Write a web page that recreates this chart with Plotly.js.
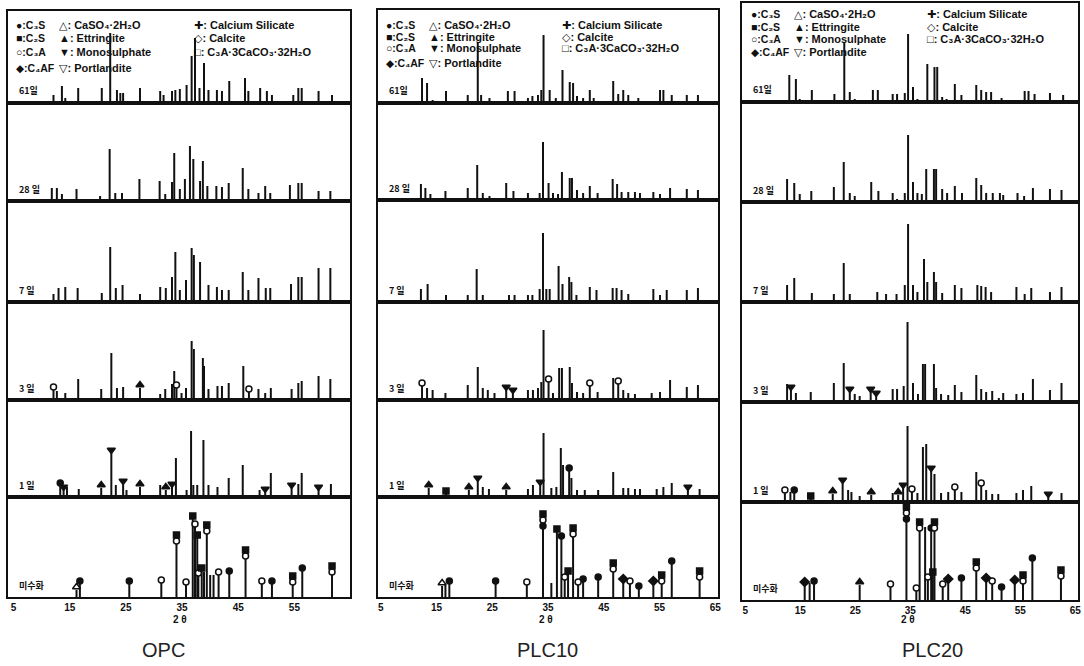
<!DOCTYPE html>
<html><head><meta charset="utf-8">
<script src="https://cdn.plot.ly/plotly-3.0.1.min.js"></script>
<style>html,body{margin:0;padding:0;background:#fff;}#chart{width:1084px;height:666px;}</style>
</head><body><div id="chart"></div>
<script>
// ---------- labels ----------
const panelNames = ['OPC', 'PLC10', 'PLC20'];
const rowNames = ['61일', '28 일', '7 일', '3 일', '1 일', '미수화'];
const tickVals = [5, 15, 25, 35, 45, 55, 65];
const legendCol1 = ['●:C₃S', '■:C₂S', '○:C₃A', '◆:C₄AF'];
const legendCol2 = ['△: CaSO₄·2H₂O', '▲: Ettringite', '▼: Monosulphate', '▽: Portlandite'];
const legendCol3 = ['✚: Calcium Silicate', '◇: Calcite', '□: C₃A·3CaCO₃·32H₂O'];

// ---------- OPC (2θ, relative intensity) ----------
const opc61x = [12.1,13.6,14.2,16.5,20.7,22.2,23.4,24.0,24.5,27.5,31.1,31.7,33.2,33.8,34.6,35.8,36.7,37.3,38.1,38.9,39.7,41.2,42.1,43.4,46.2,46.8,48.9,50.1,51.0,54.8,55.7,56.3,59.3,61.7];
const opc61y = [8,17,5,15,15,70,13,10,10,15,12,8,12,13,14,18,47,65,15,40,13,13,12,22,25,12,15,12,8,8,15,15,12,8];
const opc28x = [11.8,12.7,13.6,16.2,20.4,22.1,23.1,24.3,27.4,31.0,32.0,33.2,33.6,34.6,35.5,36.4,37.0,38.2,38.7,39.5,41.1,42.1,43.3,45.8,46.8,48.6,49.8,50.7,54.2,55.7,56.3,59.3,61.4];
const opc28y = [13,13,7,12,5,52,8,8,22,20,7,19,48,12,22,55,42,20,40,15,15,14,18,33,12,8,15,8,16,18,18,10,10];
const opc7x = [12.1,13.0,14.2,16.4,20.7,22.2,23.2,24.4,27.5,31.1,32.1,33.2,33.8,34.6,35.7,36.7,37.1,38.2,39.7,41.2,42.1,43.3,45.8,46.8,48.6,49.9,50.7,54.4,55.7,56.3,59.3,61.4];
const opc7y = [8,14,15,14,9,55,14,17,8,15,14,25,50,12,22,54,47,40,17,15,12,12,30,12,24,14,14,18,25,25,34,34];
const opc3x = [12.1,12.7,14.2,16.5,20.6,22.4,23.4,24.5,27.5,31.1,32.0,33.2,33.6,34.0,34.9,35.7,36.7,37.1,38.7,38.9,39.7,41.3,42.1,43.3,45.9,46.9,48.6,49.8,50.8,54.5,55.7,56.3,59.3,61.4];
const opc3y = [10,9,7,21,11,47,12,13,12,6,11,16,29,12,7,12,59,51,42,34,11,14,14,17,34,8,11,7,12,11,17,19,24,21];
const opc3mx = [12.1,27.5,34.0,46.9];
const opc3ms = ['o','u','o','o'];
const opc1x = [13.3,13.9,14.5,16.6,20.6,22.4,23.2,24.5,25.1,27.5,31.1,32.1,33.2,33.9,35.8,36.6,37.0,37.7,38.8,39.7,41.3,43.3,45.8,48.8,49.8,50.8,54.5,55.7,56.3,59.3,61.5];
const opc1y = [11,7,10,8,9,44,12,13,7,10,12,7,10,39,7,66,12,12,57,12,10,19,32,7,5,24,9,13,24,7,13];
const opc1mx = [13.3,13.9,20.6,22.4,24.5,27.5,32.1,33.2,49.8,54.5,59.3];
const opc1ms = ['c','n','u','n','n','u','u','n','n','n','n'];
const opc0x = [16.2,16.8,25.6,31.3,34.0,35.7,36.9,37.3,37.7,37.9,38.5,38.9,39.4,40.0,40.6,41.5,43.4,46.3,49.2,51.0,54.7,56.4,61.7];
const opc0y = [7,13,13,14,53,12,78,70,59,21,26,25,63,22,22,22,23,38,13,13,12,26,22];
const opc0mx = [16.2,16.8,25.6,31.3,34.0,35.7,36.9,37.3,37.7,37.9,38.5,39.4,41.5,43.4,46.3,49.2,51.0,54.7,56.4,61.7];
const opc0ms = ['a','c','c','o','os','o','s','o','s','o','s','os','o','c','os','o','c','os','c','os'];

// ---------- PLC10 ----------
const p10_61x = [12.4,13.3,14.3,16.7,20.6,22.4,23.0,24.5,27.8,29.0,31.4,32.2,33.2,33.8,34.2,35.3,36.4,37.6,38.9,39.5,40.2,41.3,42.5,43.2,46.7,47.6,48.5,49.4,51.2,55.1,55.7,57.2,59.9,61.9];
const p10_61y = [25,20,3,12,8,60,8,5,12,12,5,7,8,13,68,13,5,33,21,20,7,5,13,5,22,9,13,8,5,13,13,8,8,8];
const p10_28x = [12.2,13.0,13.9,16.6,20.6,22.3,23.3,24.5,27.5,28.8,31.4,32.2,33.5,34.1,35.1,35.9,36.8,37.5,38.9,39.3,40.2,41.3,42.5,43.9,46.6,47.4,48.2,49.4,50.6,51.5,53.9,55.1,56.9,59.9,61.9];
const p10_28y = [16,12,6,9,12,35,7,4,17,9,7,2,7,58,17,7,6,28,22,22,10,7,14,7,21,16,8,8,8,7,8,6,12,11,10];
const p10_7x = [12.2,13.4,16.7,20.6,22.2,23.3,28.0,29.0,31.4,32.2,33.5,34.1,34.7,35.3,36.9,37.6,38.8,39.2,40.1,42.5,43.7,46.6,47.3,48.2,49.4,53.9,55.1,56.3,59.9,61.9];
const p10_7y = [13,18,7,7,33,7,7,7,7,7,13,69,13,13,36,18,25,20,7,15,12,14,14,12,8,13,7,12,12,14];
const p10_3x = [12.4,13.3,14.3,16.6,20.6,22.4,23.3,24.2,25.4,27.5,28.7,31.4,32.3,33.2,33.8,34.2,35.1,35.9,37.0,37.5,38.9,39.3,40.2,41.3,42.5,43.9,46.7,47.6,48.5,49.4,50.6,53.6,55.1,56.9,59.9,61.9];
const p10_3y = [14,12,10,7,15,33,12,10,7,10,7,10,10,12,18,70,18,7,32,32,33,17,8,7,14,8,22,16,10,7,6,7,8,20,13,15];
const p10_3mx = [12.4,27.5,28.7,35.1,42.5,47.6];
const p10_3ms = ['o','n','n','o','o','o'];
const p10_1x = [13.6,16.7,20.8,22.4,23.3,24.4,27.5,31.4,32.3,33.6,34.2,35.6,36.5,37.3,37.7,38.8,39.2,40.2,41.6,44.0,46.7,48.5,49.4,50.6,51.5,54.5,55.7,57.2,60.1,62.2];
const p10_1y = [9,3,7,16,10,8,7,8,12,12,64,9,10,49,32,26,19,7,7,7,25,9,9,8,8,8,10,14,7,8];
const p10_1mx = [13.6,16.7,20.8,22.4,27.5,33.6,38.8,60.1];
const p10_1ms = ['u','s','u','n','u','n','c','n'];
const p10_0x = [16.0,16.6,17.3,25.6,31.2,34.1,35.6,36.6,37.4,38.0,38.6,39.5,40.4,41.3,44.0,46.7,48.5,49.7,51.3,53.9,55.4,57.2,62.2];
const p10_0y = [11,12,13,13,12,68,14,65,58,17,23,60,12,15,17,25,15,13,8,13,13,33,17];
const p10_0mx = [16.0,17.3,25.6,31.2,34.1,36.6,37.4,38.0,38.6,39.5,40.4,41.3,44.0,46.7,48.5,49.7,51.3,53.9,55.4,57.2,62.2];
const p10_0ms = ['a','c','c','o','cos','s','c','o','s','os','o','c','c','os','d','o','c','d','os','c','os'];

// ---------- PLC20 ----------
const p20_61x = [13.0,14.2,14.9,17.1,21.2,23.0,24.0,24.9,28.2,29.1,31.8,32.6,34.0,34.6,35.5,36.3,38.1,39.4,39.9,40.8,41.6,43.1,44.3,47.0,47.9,48.8,49.7,51.6,55.8,56.5,57.6,60.4,62.8];
const p20_61y = [27,23,3,12,8,60,10,3,12,12,8,8,9,68,15,3,38,35,35,5,3,18,7,17,12,10,10,4,11,11,8,9,7];
const p20_28x = [12.6,13.9,14.9,17.0,21.1,22.9,24.0,24.9,27.9,29.2,31.8,32.6,34.0,34.6,35.5,36.3,37.1,37.9,39.3,39.7,40.8,41.7,43.1,44.4,47.0,47.9,48.8,50.0,51.3,51.9,54.5,55.7,57.3,60.4,62.5];
const p20_28y = [23,19,8,11,15,40,9,6,20,11,9,3,9,67,20,9,8,33,33,33,13,9,16,9,24,17,9,9,9,7,9,6,14,13,12];
const p20_7x = [12.6,13.9,17.1,21.1,22.9,24.0,29.0,30.6,32.5,34.0,34.6,35.5,36.3,37.5,38.1,39.3,39.7,40.8,43.1,44.3,47.2,47.9,48.7,49.7,54.3,55.8,57.0,60.4,62.5];
const p20_7y = [17,24,9,8,39,8,10,8,8,17,78,17,10,43,20,30,20,9,17,14,17,16,15,10,15,8,14,10,15];
const p20_3x = [12.6,13.3,14.2,16.9,21.1,22.9,24.0,24.9,25.8,27.8,28.8,31.8,32.6,33.8,34.5,35.5,36.4,37.3,37.7,39.3,39.7,40.6,41.9,43.1,44.3,47.0,47.9,48.8,49.9,51.1,51.9,54.3,55.5,57.3,60.4,62.5];
const p20_3y = [18,12,9,10,19,39,10,8,6,10,6,13,13,16,80,19,8,38,38,38,14,8,7,17,10,27,13,10,11,4,9,8,9,23,12,19];
const p20_3mx = [13.3,24.0,27.8,28.8];
const p20_3ms = ['n','n','n','n'];
const p20_1x = [12.2,13.2,13.9,16.9,20.9,22.7,23.7,24.3,25.8,27.9,31.8,32.8,33.7,34.5,35.3,36.3,37.3,37.9,38.8,39.4,40.6,41.9,43.1,44.3,47.0,47.9,48.8,49.9,51.0,54.3,55.5,57.0,60.1,62.5];
const p20_1y = [9,10,9,3,8,19,12,10,6,7,9,7,14,76,10,9,55,58,31,28,9,10,12,10,30,16,12,8,8,9,12,16,5,9];
const p20_1mx = [12.2,13.9,16.9,20.9,22.7,27.9,32.8,33.7,35.3,38.8,43.1,47.9,60.1];
const p20_1ms = ['o','c','s','u','n','u','u','n','o','n','o','o','n'];
const p20_0x = [15.8,16.7,17.5,25.8,31.4,34.3,36.1,36.7,37.7,38.2,38.8,39.1,39.4,40.9,41.9,44.3,47.0,48.8,49.9,51.6,54.0,55.5,57.2,62.4];
const p20_0y = [15,17,16,15,13,78,9,69,73,20,69,25,69,13,18,19,29,19,16,10,17,16,39,21];
const p20_0mx = [15.8,17.5,25.8,31.4,34.3,36.1,36.7,38.2,38.8,39.1,39.4,40.9,41.9,44.3,47.0,48.8,49.9,51.6,54.0,55.5,57.2,62.4];
const p20_0ms = ['d','c','u','o','cos','o','os','o','c','s','os','o','d','c','os','d','o','c','d','os','c','os'];

// ---------- assemble ----------
const rowsData = [
  [[opc61x,opc61y],[opc28x,opc28y],[opc7x,opc7y],[opc3x,opc3y],[opc1x,opc1y],[opc0x,opc0y]],
  [[p10_61x,p10_61y],[p10_28x,p10_28y],[p10_7x,p10_7y],[p10_3x,p10_3y],[p10_1x,p10_1y],[p10_0x,p10_0y]],
  [[p20_61x,p20_61y],[p20_28x,p20_28y],[p20_7x,p20_7y],[p20_3x,p20_3y],[p20_1x,p20_1y],[p20_0x,p20_0y]]
];
const marksData = [
  [null,null,null,[opc3mx,opc3ms],[opc1mx,opc1ms],[opc0mx,opc0ms]],
  [null,null,null,[p10_3mx,p10_3ms],[p10_1mx,p10_1ms],[p10_0mx,p10_0ms]],
  [null,null,null,[p20_3mx,p20_3ms],[p20_1mx,p20_1ms],[p20_0mx,p20_0ms]]
];

const W = 1084, H = 666;
const xDom = [[8,350],[378,718],[742,1078]];
const xRng = [[4.0,64.9],[4.5,65.5],[4.4,65.5]];
const rowEdges = [[11,103,201,302,400,497,597],[10,103,200,302,400,497,597],[3,102,202,302,402,502,600]];
const legColX = [[6,49,184],[6,49,182],[7,50,183]];
const legRowY = [[14,27,41,57],[15,27,38,53],[11,24,36,49]];
const titleX = [163,547,932];
const symMap = {
  c:{symbol:'circle',open:false,size:6}, s:{symbol:'square',open:false,size:6},
  o:{symbol:'circle',open:true,size:6}, d:{symbol:'diamond',open:false,size:7},
  a:{symbol:'triangle-up',open:true,size:7}, u:{symbol:'triangle-up',open:false,size:7},
  n:{symbol:'triangle-down',open:false,size:7}
};

const traces = [];
const layout = {
  width: W, height: H, margin:{l:0,r:0,t:0,b:0},
  paper_bgcolor:'#fff', plot_bgcolor:'#fff', showlegend:false,
  font:{family:'Liberation Sans, DejaVu Sans, Noto Sans CJK KR', color:'#111'},
  annotations: []
};
const px2x = v => v / W, px2y = v => 1 - v / H;
const bold = {family:'Liberation Sans, DejaVu Sans, Noto Sans CJK KR', size:10, color:'#111', weight:'bold'};

for (let p = 0; p < 3; p++) {
  for (let r = 0; r < 6; r++) {
    const k = p * 6 + r + 1;
    const sx = k === 1 ? '' : String(k);
    const top = rowEdges[p][r], bot = rowEdges[p][r + 1];
    const isBottom = r === 5;
    layout['xaxis' + sx] = {
      domain:[px2x(xDom[p][0]), px2x(xDom[p][1])], range:xRng[p], anchor:'y' + sx,
      showline:true, mirror:true, linecolor:'#111', linewidth:2, showgrid:false, zeroline:false,
      ticks:'', tickvals:tickVals, showticklabels:isBottom, tickfont:{...bold, size:10},
      fixedrange:true
    };
    layout['yaxis' + sx] = {
      domain:[px2y(bot), px2y(top)], range:[0, bot - top], anchor:'x' + sx,
      showline:true, mirror:true, linecolor:'#111', linewidth:2, showgrid:false, zeroline:false,
      ticks:'', showticklabels:false, fixedrange:true
    };
    // sticks
    const [xs, ys] = rowsData[p][r];
    const lx = [], ly = [];
    xs.forEach((x, i) => { lx.push(x, x, null); ly.push(0, ys[i], null); });
    traces.push({type:'scatter', mode:'lines', x:lx, y:ly, xaxis:'x' + sx, yaxis:'y' + sx,
      line:{color:'#111', width:2}, hoverinfo:'skip', cliponaxis:false});
    // phase markers
    const mk = marksData[p][r];
    if (mk) {
      const groups = {};
      mk[0].forEach((mx, j) => {
        let idx = 0, best = 1e9;
        xs.forEach((x, i) => { const d = Math.abs(x - mx); if (d < best) { best = d; idx = i; } });
        const base = ys[idx];
        mk[1][j].split('').forEach((ch, q) => {
          (groups[ch] = groups[ch] || {x:[], y:[]});
          groups[ch].x.push(mx); groups[ch].y.push(base + 3 + q * 6);
        });
      });
      Object.keys(groups).forEach(ch => {
        const s = symMap[ch];
        traces.push({type:'scatter', mode:'markers', x:groups[ch].x, y:groups[ch].y,
          xaxis:'x' + sx, yaxis:'y' + sx, hoverinfo:'skip', cliponaxis:false,
          marker:{symbol:s.symbol, size:s.size, color:s.open ? '#fff' : '#111', line:{color:'#111', width:1.5}}});
      });
    }
    // row label
    layout.annotations.push({xref:'paper', yref:'paper', x:px2x(xDom[p][0] + 9), y:px2y(bot - 12),
      xanchor:'left', yanchor:'middle', showarrow:false, text:rowNames[r],
      font:{family:'Noto Sans CJK KR, DejaVu Sans', size:9, color:'#111', weight:'bold'}});
  }
  // legend in the top row
  const cols = [legendCol1, legendCol2, legendCol3];
  cols.forEach((col, c) => {
    col.forEach((t, i) => {
      layout.annotations.push({xref:'paper', yref:'paper',
        x:px2x(xDom[p][0] + legColX[p][c]), y:px2y(rowEdges[p][0] + legRowY[p][i]),
        xanchor:'left', yanchor:'middle', showarrow:false, text:t,
        font:{...bold, size:c === 0 ? 10.5 : 11}});
    });
  });
  // 2θ label
  const kb = p * 6 + 6;
  layout.annotations.push({xref:'x' + kb, yref:'paper', x:34.6, y:px2y(619), xanchor:'center', yanchor:'middle',
    showarrow:false, text:'2 θ', font:{...bold, size:10}});
  // panel title
  layout.annotations.push({xref:'paper', yref:'paper', x:px2x(titleX[p]), y:px2y(650), xanchor:'center', yanchor:'middle',
    showarrow:false, text:panelNames[p], font:{family:'Liberation Sans, Arial, sans-serif', size:20, color:'#222'}});
}

Plotly.newPlot('chart', traces, layout, {displayModeBar:false, staticPlot:true});
</script>
</body></html>
